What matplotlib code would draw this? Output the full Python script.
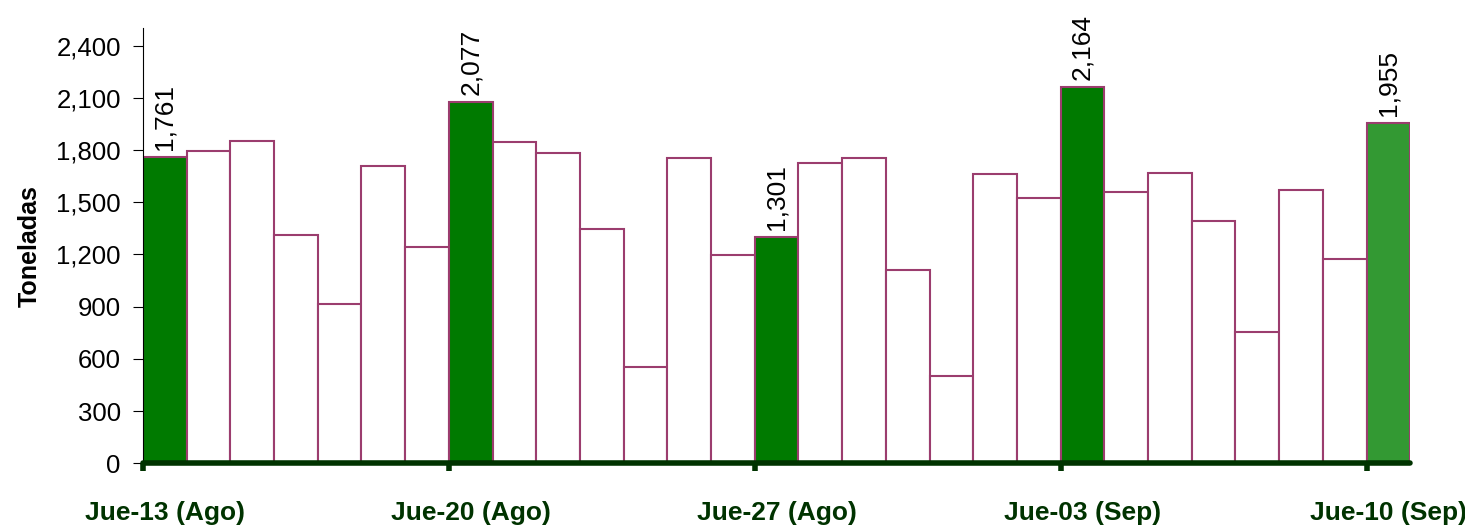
import matplotlib
matplotlib.use('Agg')
import matplotlib.pyplot as plt
import numpy as np

plt.rcParams['font.family'] = ['Liberation Sans', 'DejaVu Sans']

# daily tonnage, Thu 13 Aug .. Thu 10 Sep
values = [1761, 1793, 1851, 1314, 916, 1706, 1243,
          2077, 1845, 1784, 1344, 554, 1756, 1197,
          1301, 1727, 1752, 1111, 501, 1660, 1526,
          2164, 1561, 1666, 1390, 757, 1568, 1174,
          1955]
thursday_idx = [0, 7, 14, 21, 28]
thursday_labels = ['Jue-13 (Ago)', 'Jue-20 (Ago)', 'Jue-27 (Ago)',
                   'Jue-03 (Sep)', 'Jue-10 (Sep)']
yticks = [0, 300, 600, 900, 1200, 1500, 1800, 2100, 2400]

green = '#007A00'
last_green = '#339933'
edge = '#9B3D6E'
dark = '#003300'

fig = plt.figure(figsize=(14.65, 5.32), dpi=100)
ax = fig.add_axes([0.0976, 0.129, 0.865, 0.818])

x = np.arange(len(values))
colors = ['white'] * len(values)
for i in thursday_idx:
    colors[i] = green
colors[-1] = last_green

ax.bar(x, values, width=1.0, align='edge', color=colors,
       edgecolor=edge, linewidth=1.5, zorder=2)

for i in thursday_idx:
    ax.annotate(f'{values[i]:,}', (i + 0.5, values[i]),
                xytext=(0, 5), textcoords='offset points',
                rotation=90, ha='center', va='bottom', fontsize=19)

ax.set_xlim(0, len(values))
ax.set_ylim(0, 2500)
ax.set_yticks(yticks)
ax.set_yticklabels([f'{v:,}' for v in yticks], fontsize=18.5)
ax.tick_params(axis='y', length=7, width=0.8, pad=9)

ax.set_xticks(thursday_idx)
ax.set_xticklabels([])
ax.set_xticks([i + 0.5 for i in thursday_idx], minor=True)
ax.set_xticklabels(thursday_labels, minor=True, fontsize=19,
                   fontweight='bold', color=dark)
ax.tick_params(axis='x', which='major', length=6, width=4, color=dark)
ax.tick_params(axis='x', which='minor', length=0, pad=27)

ax.spines['top'].set_visible(False)
ax.spines['right'].set_visible(False)
ax.spines['left'].set_linewidth(0.8)
ax.spines['bottom'].set_linewidth(4)
ax.spines['bottom'].set_color(dark)
ax.spines['bottom'].set_capstyle('round')
ax.spines['bottom'].set_zorder(3)

ax.set_ylabel('Toneladas', fontsize=18, fontweight='bold', labelpad=10)

fig.savefig('out.png', dpi=100)
